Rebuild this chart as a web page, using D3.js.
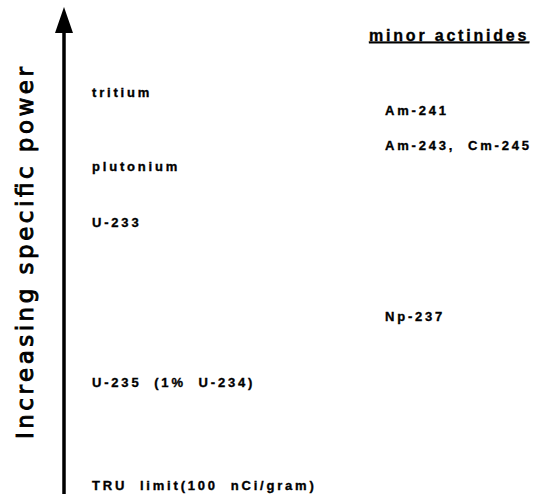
<!DOCTYPE html>
<html>
<head>
<meta charset="utf-8">
<script src="https://cdn.jsdelivr.net/npm/d3@7"></script>
<style>
  body { margin: 0; background: #fff; }
  text { font-family: "Liberation Sans", Arial, sans-serif; fill: #000; }
</style>
</head>
<body>
<div id="chart"></div>
<script>
// relative position on the specific power axis (0 = bottom, 100 = top)
var leftNames = ["tritium", "plutonium", "U-233", "U-235  (1%  U-234)", "TRU  limit(100  nCi/gram)"];
var leftLevels = [81.2, 66.4, 54.9, 22.5, 1.8];
var rightNames = ["Am-241", "Am-243,  Cm-245", "Np-237"];
var rightLevels = [77.7, 70.6, 36.0];
var rightTitle = "minor actinides";
var axisTitle = "Increasing specific power";

var width = 534, height = 494;

var svg = d3.select("#chart").append("svg")
            .attr("width", width)
            .attr("height", height);

var y = d3.scaleLinear().domain([0, 100]).range([height, 0]);

// arrow
svg.append("line")
   .attr("x1", 64).attr("x2", 64)
   .attr("y1", height).attr("y2", 28)
   .attr("stroke", "#000")
   .attr("stroke-width", 3.5);

svg.append("path")
   .attr("d", "M64,7 L55,33 L73,33 Z")
   .attr("fill", "#000");

svg.append("text")
   .attr("transform", "translate(33,253) rotate(-90)")
   .attr("text-anchor", "middle")
   .attr("textLength", 372)
   .attr("lengthAdjust", "spacing")
   .style("font-family", "'DejaVu Sans', sans-serif")
   .style("font-size", "23px")
   .style("stroke", "#000")
   .style("stroke-width", "0.9px")
   .text(axisTitle);

function label(sel) {
  sel.attr("dy", "0.35em")
     .style("font-size", "13px")
     .style("font-weight", "bold")
     .style("letter-spacing", "2.8px")
     .style("stroke", "#000")
     .style("stroke-width", "0.35px")
     .style("white-space", "pre");
}

svg.selectAll("text.left")
   .data(leftNames)
   .enter()
   .append("text")
   .attr("class", "left")
   .attr("x", 92)
   .attr("y", function(d, i) { return y(leftLevels[i]); })
   .call(label)
   .text(function(d) { return d; });

svg.append("text")
   .attr("x", 369)
   .attr("y", 35)
   .attr("dy", "0.35em")
   .style("font-size", "16px")
   .style("font-weight", "bold")
   .style("letter-spacing", "2.8px")
   .style("stroke", "#000")
   .style("stroke-width", "0.35px")
   .style("text-decoration", "underline")
   .style("white-space", "pre")
   .text(rightTitle);

svg.selectAll("text.right")
   .data(rightNames)
   .enter()
   .append("text")
   .attr("class", "right")
   .attr("x", 385)
   .attr("y", function(d, i) { return y(rightLevels[i]); })
   .call(label)
   .text(function(d) { return d; });
</script>
</body>
</html>
